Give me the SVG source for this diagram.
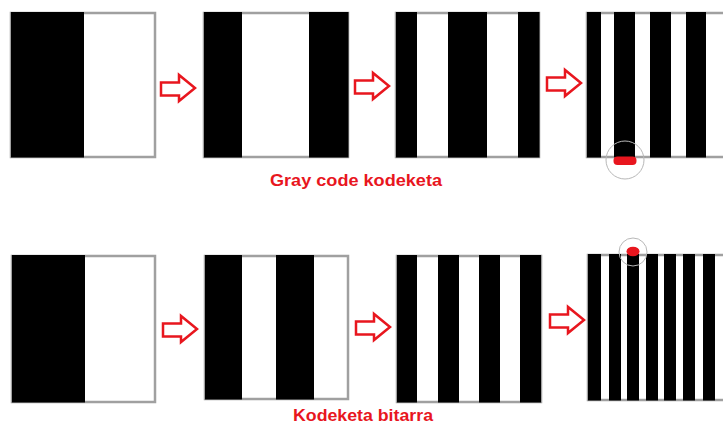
<svg xmlns="http://www.w3.org/2000/svg" width="723" height="425" viewBox="0 0 723 425">
<defs>
<style>
.frame{fill:#fff;stroke:#a0a0a0;stroke-width:2.5}
.b{fill:#000}
.arr{fill:#fff;stroke:#e8161e;stroke-width:2.5;stroke-linejoin:miter}
.lbl{font-family:"Liberation Sans",Arial,sans-serif;font-weight:bold;font-size:16px;fill:#e8161e}
.ring{fill:none;stroke:#b8b8b8;stroke-width:1}
.dot{fill:#e8161e}
</style>
<polygon id="arrowShape" class="arr" points="0,7.5 18,7.5 18,0 34,13 18,26 18,20.5 0,20.5"/>
</defs>
<rect width="723" height="425" fill="#fff"/>

<g id="g1">
<rect class="frame" x="11" y="13" width="144" height="144"/>
<rect class="b" x="11" y="12" width="73" height="145.5"/>
</g>
<g id="g2">
<rect class="frame" x="204" y="13" width="144" height="144"/>
<rect class="b" x="204" y="12" width="38" height="145.5"/>
<rect class="b" x="309" y="12" width="39.5" height="145.5"/>
</g>
<g id="g3">
<rect class="frame" x="396" y="13" width="143" height="144"/>
<rect class="b" x="396" y="12" width="21" height="145.5"/>
<rect class="b" x="448" y="12" width="39" height="145.5"/>
<rect class="b" x="518" y="12" width="21.5" height="145.5"/>
</g>
<g id="g4">
<rect class="frame" x="587" y="13" width="150" height="144"/>
<rect class="b" x="587" y="12" width="14" height="145.5"/>
<rect class="b" x="614" y="12" width="21" height="145.5"/>
<rect class="b" x="650" y="12" width="21" height="145.5"/>
<rect class="b" x="686" y="12" width="20" height="145.5"/>
<circle class="ring" cx="625" cy="160" r="19"/>
<rect class="dot" x="613.5" y="156.5" width="23" height="8.5" rx="4" ry="4"/>
</g>

<g id="b1">
<rect class="frame" x="12" y="256" width="143" height="146"/>
<rect class="b" x="12" y="255" width="73" height="147.5"/>
</g>
<g id="b2">
<rect class="frame" x="205" y="256" width="143" height="143"/>
<rect class="b" x="205" y="255" width="37" height="144.5"/>
<rect class="b" x="276" y="255" width="38" height="144.5"/>
</g>
<g id="b3">
<rect class="frame" x="397" y="256" width="144" height="146"/>
<rect class="b" x="397" y="255" width="20" height="147.5"/>
<rect class="b" x="438" y="255" width="21" height="147.5"/>
<rect class="b" x="479" y="255" width="21" height="147.5"/>
<rect class="b" x="520" y="255" width="21" height="147.5"/>
</g>
<g id="b4">
<rect class="frame" x="588" y="255" width="150" height="145"/>
<rect class="b" x="588" y="254" width="13" height="146.5"/>
<rect class="b" x="609" y="254" width="12" height="146.5"/>
<rect class="b" x="627" y="254" width="12" height="146.5"/>
<rect class="b" x="646" y="254" width="12" height="146.5"/>
<rect class="b" x="664" y="254" width="12" height="146.5"/>
<rect class="b" x="683" y="254" width="12" height="146.5"/>
<rect class="b" x="703" y="254" width="12" height="146.5"/>
<circle class="ring" cx="633" cy="252" r="14"/>
<ellipse class="dot" cx="633" cy="251.5" rx="6.5" ry="4.8"/>
</g>

<g id="connectors">
<use href="#arrowShape" x="161" y="75"/>
<use href="#arrowShape" x="355" y="73"/>
<use href="#arrowShape" x="547" y="70"/>
<use href="#arrowShape" x="163" y="316"/>
<use href="#arrowShape" x="356" y="314"/>
<use href="#arrowShape" x="550" y="307"/>
</g>

<text class="lbl" x="270" y="186" textLength="172" lengthAdjust="spacingAndGlyphs">Gray code kodeketa</text>
<text class="lbl" x="293" y="421" textLength="140" lengthAdjust="spacingAndGlyphs">Kodeketa bitarra</text>
</svg>
